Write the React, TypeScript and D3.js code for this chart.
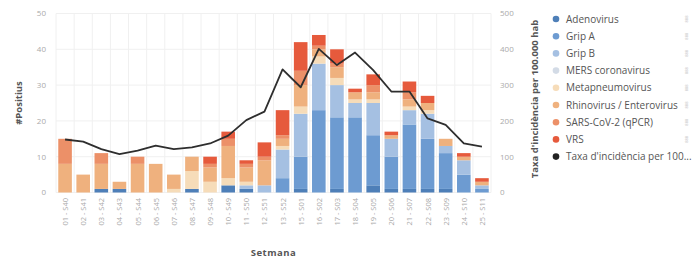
import React from 'react';
import * as d3 from 'd3';

const weeks = [
  '01 - S40', '02 - S41', '03 - S42', '04 - S43', '05 - S44', '06 - S45', '07 - S46', '08 - S47',
  '09 - S48', '10 - S49', '11 - S50', '12 - S51', '13 - S52', '15 - S01', '16 - S02', '17 - S03',
  '18 - S04', '19 - S05', '20 - S06', '21 - S07', '22 - S08', '23 - S09', '24 - S10', '25 - S11',
];

const adenovirus = [0, 0, 1, 1, 0, 0, 0, 1, 0, 2, 1, 0, 0, 1, 0, 1, 0, 2, 1, 1, 1, 1, 0, 0];
const gripA = [0, 0, 0, 0, 0, 0, 0, 0, 0, 0, 0, 0, 4, 9, 23, 20, 21, 14, 9, 18, 14, 10, 5, 1];
const gripB = [0, 0, 0, 0, 0, 0, 0, 0, 0, 0, 1, 2, 8, 12, 13, 9, 4, 9, 5, 4, 7, 2, 4, 1];
const mers = [0, 0, 0, 0, 0, 0, 0, 0, 0, 0, 0, 0, 0, 0, 0, 0, 0, 0, 0, 0, 0, 0, 0, 0];
const metapneumovirus = [0, 0, 0, 0, 0, 0, 1, 5, 3, 2, 1, 0, 1, 2, 2, 2, 1, 1, 0, 1, 1, 0, 0, 0];
const rhinovirus = [8, 5, 7, 2, 8, 8, 4, 4, 4, 9, 4, 7, 2, 6, 2, 3, 2, 2, 1, 2, 2, 2, 1, 1];
const sarsCov2 = [7, 0, 3, 0, 2, 0, 0, 0, 1, 2, 1, 1, 1, 4, 1, 1, 0, 2, 0, 2, 0, 0, 0, 0];
const vrs = [0, 0, 0, 0, 0, 0, 0, 0, 2, 2, 1, 4, 7, 8, 3, 4, 1, 3, 1, 3, 2, 0, 1, 1];

const incidence = [148, 142, 121, 107, 117, 131, 121, 126, 137, 159, 202, 226, 344, 294, 401, 356, 391, 342, 282, 282, 207, 189, 137, 128];

const series = [
  { name: 'Adenovirus', values: adenovirus, color: '#4e7fb8' },
  { name: 'Grip A', values: gripA, color: '#6d9bd1' },
  { name: 'Grip B', values: gripB, color: '#a5c0e2' },
  { name: 'MERS coronavirus', values: mers, color: '#d3dbe6' },
  { name: 'Metapneumovirus', values: metapneumovirus, color: '#f6dcb9' },
  { name: 'Rhinovirus / Enterovirus', values: rhinovirus, color: '#efb17e' },
  { name: 'SARS-CoV-2 (qPCR)', values: sarsCov2, color: '#ec9068' },
  { name: 'VRS', values: vrs, color: '#e65a3c' },
];
const lineName = "Taxa d'incidència per 100.000 hab";

const W = 696;
const H = 262;
const top = 13.5;
const bottom = 192.5;
const font = "'Open Sans', sans-serif";

export default function App() {
  const x = d3.scaleBand().domain(weeks).range([56, 491]).paddingInner(0.25).paddingOuter(0.125);
  const yL = d3.scaleLinear().domain([0, 50]).range([bottom, top]);
  const yR = d3.scaleLinear().domain([0, 500]).range([bottom, top]);

  const rows = weeks.map((w, i) => {
    const r: Record<string, any> = { week: w };
    series.forEach((s) => (r[s.name] = s.values[i]));
    return r;
  });
  const stacked = d3.stack().keys(series.map((s) => s.name))(rows as any);

  const line = d3
    .line<number>()
    .x((_, i) => (x(weeks[i]) as number) + x.bandwidth() / 2)
    .y((d) => yR(d));

  const step = x.step();
  const gridX = weeks.map((w) => (x(w) as number) + x.bandwidth() / 2 - step / 2).concat([
    (x(weeks[weeks.length - 1]) as number) + x.bandwidth() / 2 + step / 2,
  ]);

  const legendItems = [...series.map((s) => ({ name: s.name, color: s.color })), { name: "Taxa d'incidència per 100...", color: '#222' }];

  return (
    <div style={{ position: 'absolute', left: 0, top: 0 }}>
      <svg width={W} height={H} style={{ display: 'block', background: '#fff' }} fontFamily={font}>
        {/* grid */}
        {yL.ticks(5).map((t) => (
          <line key={'h' + t} x1={56} x2={491} y1={yL(t)} y2={yL(t)} stroke="#f0f0f0" />
        ))}
        {gridX.map((gx, i) => (
          <line key={'v' + i} x1={gx} x2={gx} y1={top} y2={bottom} stroke="#f0f0f0" />
        ))}

        {/* bars */}
        {stacked.map((layer, li) => (
          <g key={layer.key} fill={series[li].color}>
            {layer.map((d, i) =>
              d[1] - d[0] > 0 ? (
                <rect key={i} x={x(weeks[i])} width={x.bandwidth()} y={yL(d[1])} height={yL(d[0]) - yL(d[1])} />
              ) : null
            )}
          </g>
        ))}

        {/* line */}
        <path d={line(incidence) || ''} fill="none" stroke="#2e2e2e" strokeWidth={1.8} strokeLinejoin="round" />

        {/* left axis */}
        {yL.ticks(5).map((t) => (
          <text key={'l' + t} x={46} y={yL(t)} dy="0.35em" textAnchor="end" fontSize={8} fill="#aaa">
            {t}
          </text>
        ))}
        <text transform={`translate(22,${(top + bottom) / 2}) rotate(-90)`} textAnchor="middle" fontSize={9.5} fontWeight="bold" fill="#555">
          #Positius
        </text>

        {/* right axis */}
        {yR.ticks(5).map((t) => (
          <text key={'r' + t} x={500} y={yR(t)} dy="0.35em" textAnchor="start" fontSize={8} fill="#aaa">
            {t}
          </text>
        ))}
        <text transform={`translate(538,${(top + bottom) / 2 - 4}) rotate(-90)`} textAnchor="middle" fontSize={9.5} fontWeight="bold" fill="#555">
          {lineName}
        </text>

        {/* x axis labels */}
        {weeks.map((w) => (
          <text
            key={w}
            transform={`translate(${(x(w) as number) + x.bandwidth() / 2 + 3},198) rotate(-90)`}
            textAnchor="end"
            fontSize={7.5}
            fill="#aaa"
          >
            {w}
          </text>
        ))}
        <text x={(56 + 491) / 2} y={256} textAnchor="middle" fontSize={9.5} fontWeight="bold" fill="#555" letterSpacing={0.5}>
          Setmana
        </text>

        {/* legend */}
        {legendItems.map((it, i) => (
          <g key={it.name} transform={`translate(556,${19 + i * 17.2})`}>
            <circle r={3.3} fill={it.color} />
            <text x={10} dy="0.35em" fontSize={10} fill="#555">
              {it.name}
            </text>
            {i < 8 ? (
              <text transform="translate(131,0) rotate(-90)" textAnchor="middle" dy="0.3em" fontSize={4} fill="#bbb">
                888
              </text>
            ) : null}
          </g>
        ))}
      </svg>
    </div>
  );
}
